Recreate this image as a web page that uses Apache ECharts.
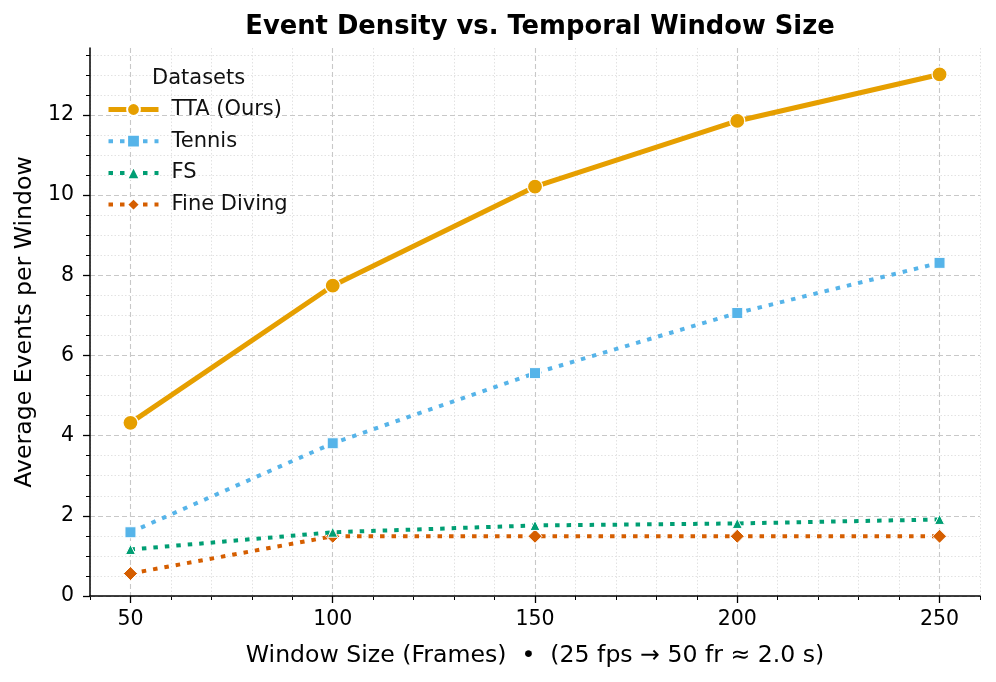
<!DOCTYPE html>
<html>
<head>
<meta charset="utf-8">
<script src="https://cdn.jsdelivr.net/npm/echarts@6/dist/echarts.min.js"></script>
<style>html,body{margin:0;padding:0;background:#fff;}#c{width:996px;height:682px;}</style>
</head>
<body>
<div id="c"></div>
<script>
const windowSizes = [50, 100, 150, 200, 250];
const ttaValues = [4.32, 7.74, 10.21, 11.85, 13.01];
const tennisValues = [1.59, 3.81, 5.56, 7.06, 8.31];
const fsValues = [1.16, 1.59, 1.76, 1.81, 1.91];
const fineDivingValues = [0.56, 1.49, 1.49, 1.49, 1.49];
const xMajorTicks = [50, 100, 150, 200, 250];
const xMinorTicks = [40,60,70,80,90,110,120,130,140,160,170,180,190,210,220,230,240,260];
const yMajorTicks = [0, 2, 4, 6, 8, 10, 12];
const yMinorTicks = [0.5,1,1.5,2.5,3,3.5,4.5,5,5.5,6.5,7,7.5,8.5,9,9.5,10.5,11,11.5,12.5,13,13.5];

const FONT = 'DejaVu Sans';
const chart = echarts.init(document.getElementById('c'), null, {renderer: 'canvas'});

function pairs(vals) { return windowSizes.map((x, i) => [x, vals[i]]); }

const gridCfg = {left: 90, right: 16, top: 48, bottom: 86, containLabel: false};
const dotted = [4.5, 7];

const option = {
  backgroundColor: '#ffffff',
  animation: false,
  title: [
    {text: 'Event Density vs. Temporal Window Size', left: 535, top: 9, textAlign: 'center',
     textStyle: {fontFamily: FONT, fontWeight: 'bold', fontSize: 25.8, color: '#000'}},
    {text: 'Datasets', left: 147, top: 63,
     textStyle: {fontFamily: FONT, fontWeight: 'normal', fontSize: 21, color: '#111'}}
  ],
  legend: {
    orient: 'vertical', left: 106, top: 99, padding: 0, itemWidth: 50, itemHeight: 16, itemGap: 10.7,
    lineStyle: {width: 'inherit'},
    textStyle: {fontFamily: FONT, fontSize: 21, color: '#111', padding: [0, 0, 0, 8]},
    data: ['TTA (Ours)', 'Tennis', 'FS', 'Fine Diving']
  },
  grid: [gridCfg],
  xAxis: [
    {type: 'value', min: 40, max: 260, gridIndex: 0, position: 'bottom',
     name: 'Window Size (Frames)  \u2022  (25 fps \u2192 50 fr \u2248 2.0 s)', nameLocation: 'middle', nameGap: 48,
     nameTextStyle: {fontFamily: FONT, fontSize: 23.6, color: '#000'},
     axisLine: {show: true, onZero: false, lineStyle: {color: '#000', width: 1.5}},
     axisTick: {show: true, customValues: xMajorTicks, length: 7, lineStyle: {color: '#000', width: 1.3}},
     axisLabel: {customValues: xMajorTicks, margin: 13, fontFamily: FONT, fontSize: 20.5, color: '#000'},
     splitLine: {show: true, lineStyle: {color: '#c8c8c8', width: 1.1, type: [5, 3]}},
     z: 3},
    {type: 'value', min: 40, max: 260, gridIndex: 0, position: 'bottom',
     axisLine: {show: false},
     axisTick: {show: true, customValues: xMinorTicks, length: 4, lineStyle: {color: '#000', width: 1}},
     axisLabel: {show: false},
     splitLine: {show: true, lineStyle: {color: '#e2e2e2', width: 1, type: [1.5, 2]}},
     z: 1}
  ],
  yAxis: [
    {type: 'value', min: 0, max: 13.67, gridIndex: 0, position: 'left',
     name: 'Average Events per Window', nameLocation: 'middle', nameGap: 49,
     nameTextStyle: {fontFamily: FONT, fontSize: 23.6, color: '#000'},
     axisLine: {show: true, onZero: false, lineStyle: {color: '#000', width: 1.5}},
     axisTick: {show: true, customValues: yMajorTicks, length: 7, lineStyle: {color: '#000', width: 1.3}},
     axisLabel: {customValues: yMajorTicks, margin: 16, fontFamily: FONT, fontSize: 20.5, color: '#000'},
     splitLine: {show: true, lineStyle: {color: '#c8c8c8', width: 1.1, type: [5, 3]}},
     z: 3},
    {type: 'value', min: 0, max: 13.67, gridIndex: 0, position: 'left',
     axisLine: {show: false},
     axisTick: {show: true, customValues: yMinorTicks, length: 4, lineStyle: {color: '#000', width: 1}},
     axisLabel: {show: false},
     splitLine: {show: true, lineStyle: {color: '#e2e2e2', width: 1, type: [1.5, 2]}},
     z: 1}
  ],
  series: [
    {name: 'Fine Diving', type: 'line', data: pairs(fineDivingValues), xAxisIndex: 0, yAxisIndex: 0,
     symbol: 'diamond', symbolSize: 14, z: 4,
     lineStyle: {color: '#D55E00', width: 4, type: dotted, cap: 'butt'},
     itemStyle: {color: '#D55E00', borderColor: '#fff', borderWidth: 1}},
    {name: 'FS', type: 'line', data: pairs(fsValues), xAxisIndex: 0, yAxisIndex: 0,
     symbol: 'triangle', symbolSize: 10, z: 5,
     lineStyle: {color: '#009E73', width: 4, type: dotted, cap: 'butt'},
     itemStyle: {color: '#009E73', borderColor: '#fff', borderWidth: 1}},
    {name: 'Tennis', type: 'line', data: pairs(tennisValues), xAxisIndex: 0, yAxisIndex: 0,
     symbol: 'rect', symbolSize: 11, z: 6,
     lineStyle: {color: '#56B4E9', width: 4, type: dotted, cap: 'butt'},
     itemStyle: {color: '#56B4E9', borderColor: '#fff', borderWidth: 1}},
    {name: 'TTA (Ours)', type: 'line', data: pairs(ttaValues), xAxisIndex: 0, yAxisIndex: 0,
     symbol: 'circle', symbolSize: 15, z: 7,
     lineStyle: {color: '#E69F00', width: 5},
     itemStyle: {color: '#E69F00', borderColor: '#fff', borderWidth: 1.2}}
  ]
};
chart.setOption(option);
</script>
</body>
</html>
